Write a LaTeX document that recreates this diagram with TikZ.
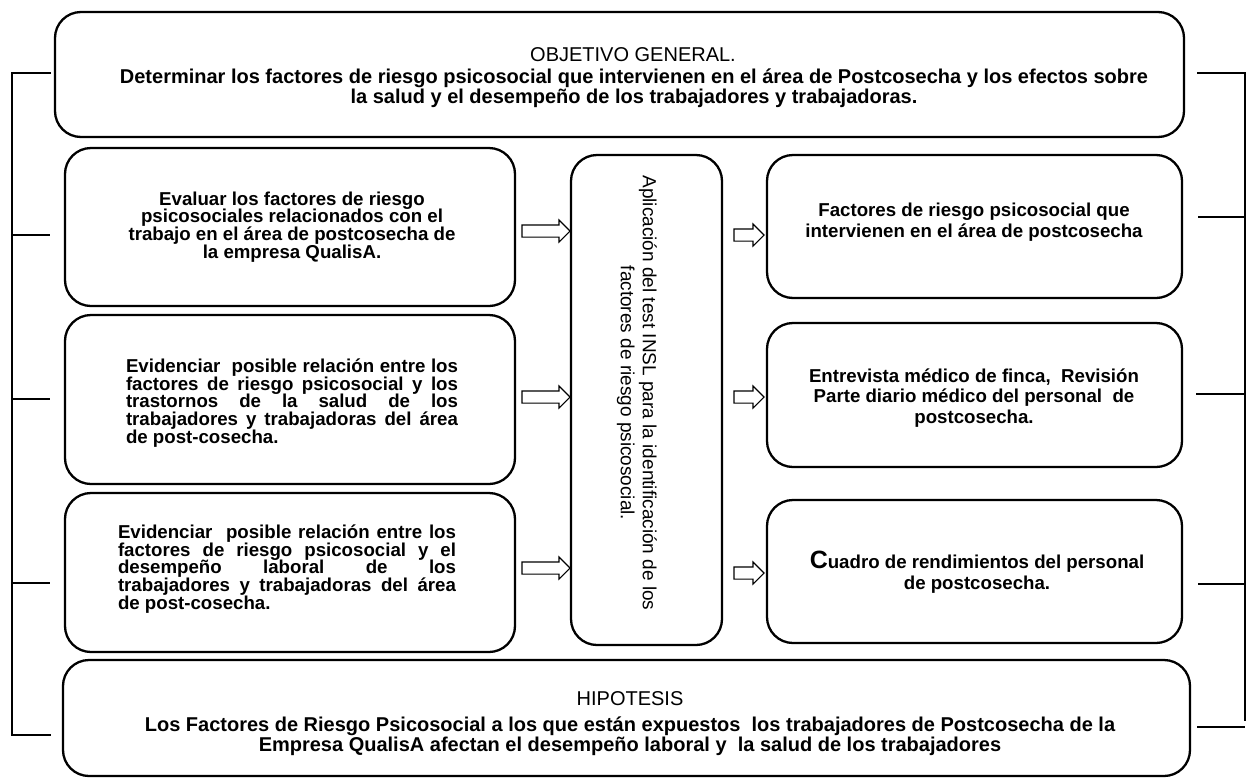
\documentclass[tikz,border=0pt]{standalone}
\usepackage{fontspec}
\setmainfont{Liberation Sans}
\usetikzlibrary{shapes.arrows}
\begin{document}
\begin{tikzpicture}[x=1pt,y=-1pt,
  box/.style={draw, line width=2.3pt, rounded corners=26pt, rectangle, inner sep=0pt, outer sep=0pt},
  brk/.style={line width=1.7pt},
  barrow/.style={single arrow, draw, line width=1.1pt, fill=white, inner xsep=0pt, inner ysep=5.5pt,
     single arrow head extend=5pt, single arrow tip angle=90, minimum width=21pt, outer sep=0pt},
  lt/.style={font=\fontsize{18.67}{17.7}\selectfont\bfseries, inner sep=0pt},
  rt/.style={font=\fontsize{18.67}{20.5}\selectfont\bfseries, inner sep=0pt, align=center},
  bigt/.style={font=\fontsize{20}{18.3}\selectfont\bfseries, inner sep=0pt, align=center},
  headt/.style={font=\fontsize{20}{20}\selectfont, inner sep=0pt}
]
\useasboundingbox (0,0) rectangle (1251,780);

% boxes
\node[box, minimum width=1129pt, minimum height=125pt] (top) at (619.5,74.5) {};
\node[box, minimum width=450pt, minimum height=158pt] (l1) at (290,227) {};
\node[box, minimum width=450pt, minimum height=169pt] (l2) at (290,399.5) {};
\node[box, minimum width=450pt, minimum height=159pt] (l3) at (290,572.5) {};
\node[box, minimum width=151pt, minimum height=490pt] (mid) at (646.5,400) {};
\node[box, minimum width=415pt, minimum height=143pt] (r1) at (974.5,226.5) {};
\node[box, minimum width=415pt, minimum height=144pt] (r2) at (974.5,395) {};
\node[box, minimum width=415pt, minimum height=143pt] (r3) at (974.5,571.5) {};
\node[box, minimum width=1127pt, minimum height=116pt] (hyp) at (626.5,718) {};

% texts
\node[headt] (toph) at (633,55) {OBJETIVO GENERAL.};
\node[bigt] (topt) at (634,88) {Determinar los factores de riesgo psicosocial que intervienen en el área de Postcosecha y los efectos sobre\\la salud y el desempeño de los trabajadores y trabajadoras.};

\node[lt, align=center] (l1t) at (292,227) {Evaluar los factores de riesgo\\psicosociales relacionados con el\\trabajo en el área de postcosecha de\\la empresa QualisA.};
\node[lt, text width=332pt, align=justify] (l2t) at (292,403) {Evidenciar\ \ posible relación entre los\linebreak factores de riesgo psicosocial y los\linebreak trastornos de la salud de los\linebreak trabajadores y trabajadoras del área\linebreak de post-cosecha.};
\node[lt, text width=338pt, align=justify] (l3t) at (287,569) {Evidenciar\ \ posible relación entre los\linebreak factores de riesgo psicosocial y el\linebreak desempeño laboral de los\linebreak trabajadores y trabajadoras del área\linebreak de post-cosecha.};

\node[font=\fontsize{19}{22}\selectfont, inner sep=0pt, align=center, rotate=-90] (midt) at (637,393) {Aplicación del test INSL para la identificación de los\\factores de riesgo psicosocial.};

\node[rt] (r1t) at (974,222) {Factores de riesgo psicosocial que\\intervienen en el área de postcosecha};
\node[rt] (r2t) at (974,398) {Entrevista médico de finca,\ \ Revisión\\Parte diario médico del personal\ \ de\\postcosecha.};
\node[rt] (r3t) at (977,572) {{\fontsize{25}{20}\selectfont C}uadro de rendimientos del personal\\de postcosecha.};

\node[headt] (hyph) at (630,699) {HIPOTESIS};
\node[bigt] (hypt) at (630,736) {Los Factores de Riesgo Psicosocial a los que están expuestos\ \ los trabajadores de Postcosecha de la\\Empresa QualisA afectan el desempeño laboral y\ \ la salud de los trabajadores};

% block arrows
\node[barrow, minimum height=48pt] (a1) at (543,231) {};
\node[barrow, minimum height=48pt] (a2) at (543,397) {};
\node[barrow, minimum height=48pt] (a3) at (543,568) {};
\node[barrow, minimum height=30pt] (b1) at (746,235) {};
\node[barrow, minimum height=30pt] (b2) at (746,397) {};
\node[barrow, minimum height=30pt] (b3) at (746,573) {};

% left bracket
\coordinate (L0) at (12,73);
\coordinate (L4) at (12,735);
\draw[brk] (51,73) -- (L0) -- (L4) -- (51,735);
\draw[brk] (12,235) -- (50,235);
\draw[brk] (12,399) -- (50,399);
\draw[brk] (12,583) -- (50,583);

% right bracket
\coordinate (R0) at (1245,73);
\coordinate (R4) at (1245,721);
\draw[brk] (1197,73) -- (R0) -- (R4);
\draw[brk] (1198,217) -- (1245,217);
\draw[brk] (1196,394) -- (1245,394);
\draw[brk] (1198,584) -- (1245,584);
\draw[brk] (1197,727) -- (1245,727);
\end{tikzpicture}
\end{document}
